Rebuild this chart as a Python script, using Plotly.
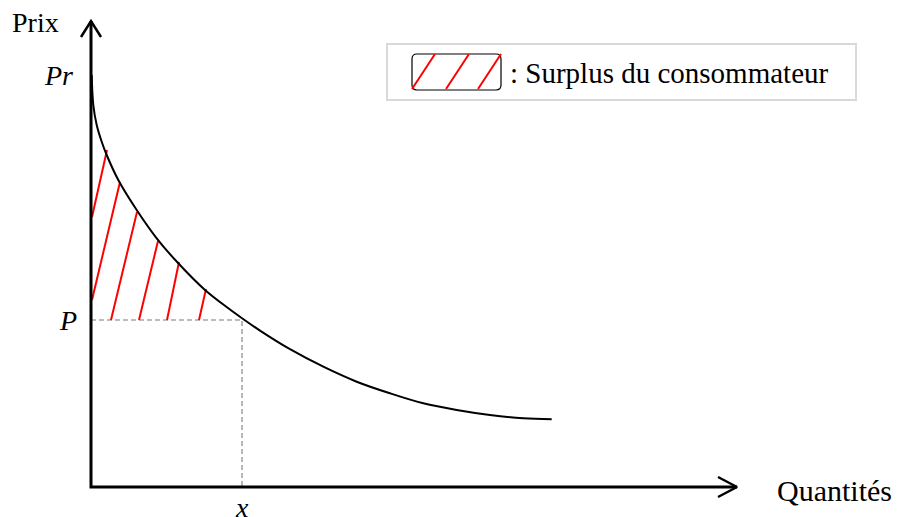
import plotly.graph_objects as go

# Demand curve (arbitrary units: quantity, price)
curve_q = [0.07, 0.23, 0.57, 1.07, 1.57, 2.73, 4.57, 6.57, 8.73, 11.4, 13.73, 15.07, 16.9, 19.9,
           23.23, 26.57, 29.9, 33.23, 36.57, 39.9, 43.23, 46.07]
curve_p = [41.2, 38.2, 36.2, 34.53, 33.2, 30.7, 27.7, 24.87, 22.37, 19.7, 17.87, 16.9, 15.64, 13.78,
           12.03, 10.53, 9.37, 8.37, 7.7, 7.2, 6.87, 6.77]

price_p = 16.7      # market price P
quantity_x = 15.1   # quantity x
price_pr = 41.2     # reservation price Pr

# Hatch lines of consumer surplus: start (q, p) -> end (q, p)
hatch_q0 = [0.1, 0.1, 2.0, 4.8, 7.6, 10.8]
hatch_p0 = [27.0, 18.7, 16.7, 16.7, 16.7, 16.7]
hatch_q1 = [1.6, 2.9, 4.6, 6.7, 8.8, 11.5]
hatch_p1 = [33.7, 30.5, 27.5, 24.6, 22.5, 19.8]

q_axis_max = 64.6
p_axis_max = 46.6

labels_axes = ["Prix", "Quantités"]
legend_text = ": Surplus du consommateur"

FONT = "Liberation Serif, Times New Roman, serif"

fig = go.Figure()

# dashed guides
fig.add_trace(go.Scatter(x=[0, quantity_x, quantity_x], y=[price_p, price_p, 0], mode="lines",
                         line=dict(color="#a6a6a6", width=1.6, dash="5px,3px"), hoverinfo="skip"))

# hatch
for q0, p0, q1, p1 in zip(hatch_q0, hatch_p0, hatch_q1, hatch_p1):
    fig.add_trace(go.Scatter(x=[q0, q1], y=[p0, p1], mode="lines",
                             line=dict(color="#ff0000", width=2), hoverinfo="skip"))

# curve
fig.add_trace(go.Scatter(x=curve_q, y=curve_p, mode="lines",
                         line=dict(color="black", width=2, shape="spline", smoothing=1.0),
                         hoverinfo="skip"))

# axes
fig.add_trace(go.Scatter(x=[0, 0, q_axis_max], y=[p_axis_max, 0, 0], mode="lines",
                         line=dict(color="black", width=3), hoverinfo="skip"))
# arrow heads
fig.add_trace(go.Scatter(x=[-1.0, 0, 1.0], y=[p_axis_max - 1.6, p_axis_max, p_axis_max - 1.6], mode="lines",
                         line=dict(color="black", width=2.5), hoverinfo="skip"))
fig.add_trace(go.Scatter(x=[q_axis_max - 1.9, q_axis_max, q_axis_max - 1.9], y=[1.0, 0, -1.0], mode="lines",
                         line=dict(color="black", width=2.5), hoverinfo="skip"))

# legend box
shapes = [
    dict(type="rect", x0=29.6, x1=76.5, y0=38.7, y1=44.3, line=dict(color="#d9d9d9", width=2),
         fillcolor="white", layer="below"),
]
r_q, r_p = 0.5, 0.5
lx0, lx1, ly0, ly1 = 32.1, 41.0, 39.7, 43.3
path = (f"M {lx0+r_q},{ly1} L {lx1-r_q},{ly1} Q {lx1},{ly1} {lx1},{ly1-r_p} "
        f"L {lx1},{ly0+r_p} Q {lx1},{ly0} {lx1-r_q},{ly0} L {lx0+r_q},{ly0} "
        f"Q {lx0},{ly0} {lx0},{ly0+r_p} L {lx0},{ly1-r_p} Q {lx0},{ly1} {lx0+r_q},{ly1} Z")
shapes.append(dict(type="path", path=path, line=dict(color="black", width=1.2)))
leg_q0 = [32.1, 35.5, 38.7]
leg_q1 = [34.4, 37.8, 41.0]
for a, b in zip(leg_q0, leg_q1):
    shapes.append(dict(type="line", x0=a, y0=39.8, x1=b, y1=43.3, line=dict(color="#ff0000", width=2)))

annotations = [
    dict(x=-8.1, y=46.5, text=labels_axes[0], xanchor="left", yanchor="middle", showarrow=False,
         font=dict(size=28)),
    dict(x=68.4, y=-0.3, text=labels_axes[1], xanchor="left", yanchor="middle", showarrow=False,
         font=dict(size=30)),
    dict(x=-3.3, y=price_pr, text="<i>Pr</i>", xanchor="center", yanchor="middle", showarrow=False,
         font=dict(size=28)),
    dict(x=-2.3, y=price_p, text="<i>P</i>", xanchor="center", yanchor="middle", showarrow=False,
         font=dict(size=28)),
    dict(x=quantity_x, y=-2.0, text="<i>x</i>", xanchor="center", yanchor="middle", showarrow=False,
         font=dict(size=28)),
    dict(x=41.7, y=41.4, text=legend_text, xanchor="left", yanchor="middle", showarrow=False,
         font=dict(size=29)),
]

fig.update_layout(
    width=893, height=509, margin=dict(l=0, r=0, t=0, b=0),
    paper_bgcolor="white", plot_bgcolor="white", showlegend=False,
    font=dict(family=FONT, size=28, color="black"),
    xaxis=dict(range=[-8.3, 81.0], visible=False, fixedrange=True),
    yaxis=dict(range=[-3.0, 47.9], visible=False, fixedrange=True),
    shapes=shapes, annotations=annotations,
)

fig.write_html("out.html")
